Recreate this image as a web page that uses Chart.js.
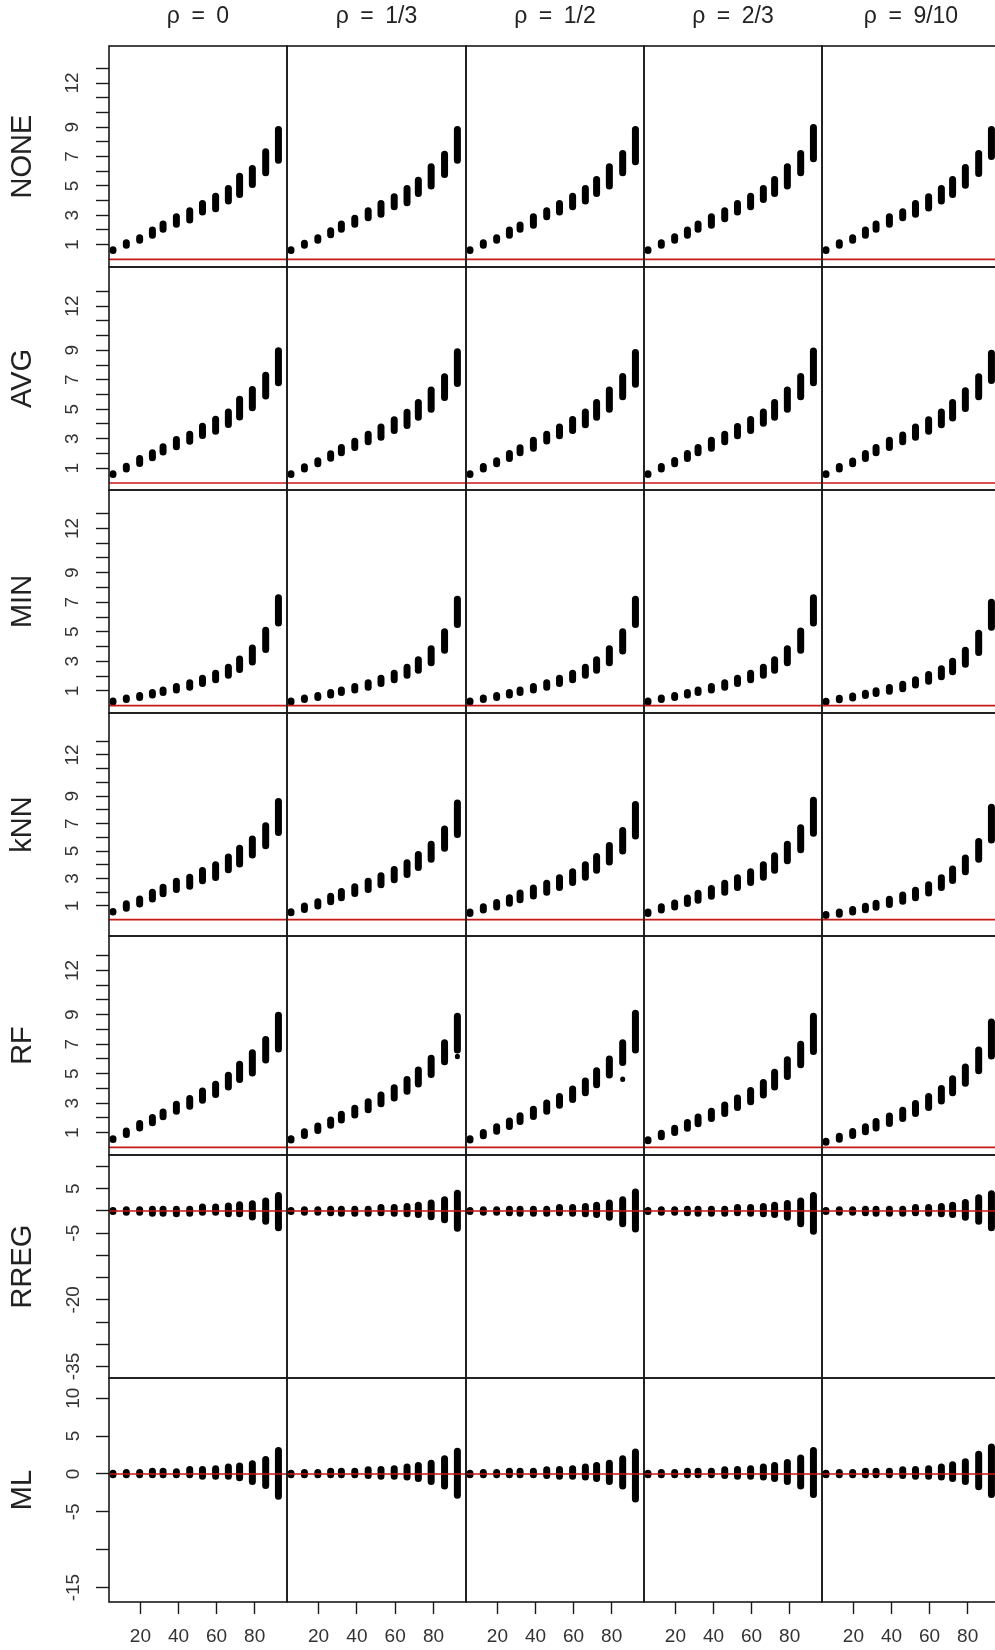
<!DOCTYPE html>
<html>
<head>
<meta charset="utf-8">
<script src="https://cdn.jsdelivr.net/npm/chart.js@4"></script>
<style>
  html, body { margin: 0; padding: 0; background: #fff; overflow: hidden; }
  #wrap { position: relative; width: 995px; height: 1650px; overflow: hidden; background: #fff; }
  #wrap canvas { position: absolute; }
</style>
</head>
<body>
<div id="wrap"></div>
<script>
// x position of every cluster (same in each panel)
const xValues = [5.6, 12.6, 19.6, 26.3, 31.9, 38.9, 45.9, 52.6, 59.5, 66.2, 72.1, 78.8, 85.8, 92.5];
const xTicks = [20, 40, 60, 80];

const colTitles = ["\u03C1\u2002=\u20020", "\u03C1\u2002=\u20021/3", "\u03C1\u2002=\u20021/2", "\u03C1\u2002=\u20022/3", "\u03C1\u2002=\u20029/10"];
const rowNames = ["NONE", "AVG", "MIN", "kNN", "RF", "RREG", "ML"];

// y axis per row
const yMin = [-0.52, -0.48, -0.5, -1.19, -0.52, -37.6, -16.9];
const yMax = [14.52, 14.65, 14.6, 15.06, 14.34, 12.6, 12.66];
const unitTicks = [1, 2, 3, 4, 5, 6, 7, 8, 9, 10, 11, 12, 13];
const unitLabels = [1, 3, 5, 7, 9, 12];
const rregTicks = [10, 5, 0, -5, -10, -15, -20, -25, -30, -35];
const rregLabels = [5, -5, -20, -35];
const mlTicks = [10, 5, 0, -5, -10, -15];
const mlLabels = [10, 5, 0, -5, -15];

// low / high end of each cluster, one list per column (rho)
const noneLo = [
  [0.60, 0.96, 1.30, 1.64, 2.05, 2.39, 2.68, 3.22, 3.45, 3.97, 4.42, 5.10, 5.89, 6.75],
  [0.60, 0.96, 1.30, 1.68, 2.05, 2.39, 2.83, 3.07, 3.58, 3.85, 4.49, 4.99, 5.78, 6.75],
  [0.60, 0.96, 1.30, 1.64, 2.05, 2.32, 2.90, 3.22, 3.58, 3.97, 4.49, 4.99, 5.89, 6.64],
  [0.60, 0.96, 1.30, 1.64, 2.05, 2.32, 2.77, 3.22, 3.58, 4.08, 4.49, 4.99, 5.89, 6.84],
  [0.60, 0.96, 1.30, 1.64, 2.05, 2.39, 2.83, 3.07, 3.50, 3.97, 4.42, 5.05, 5.84, 7.00]
];
const noneHi = [
  [0.66, 1.13, 1.47, 2.00, 2.40, 2.90, 3.31, 3.80, 4.30, 4.82, 5.66, 6.18, 7.32, 8.83],
  [0.66, 1.10, 1.47, 1.95, 2.40, 2.79, 3.31, 3.80, 4.26, 4.82, 5.39, 6.30, 7.15, 8.83],
  [0.66, 1.13, 1.47, 2.00, 2.33, 2.90, 3.31, 3.80, 4.30, 4.82, 5.44, 6.30, 7.20, 8.83],
  [0.66, 1.13, 1.54, 2.00, 2.40, 2.90, 3.31, 3.80, 4.30, 4.82, 5.44, 6.30, 7.20, 8.97],
  [0.66, 1.13, 1.47, 2.00, 2.40, 2.90, 3.24, 3.80, 4.26, 4.82, 5.44, 6.25, 7.20, 8.83]
];
const avgLo = [
  [0.58, 0.95, 1.32, 1.70, 2.09, 2.45, 2.83, 3.22, 3.50, 3.97, 4.48, 5.10, 5.89, 6.80],
  [0.58, 0.95, 1.30, 1.68, 2.05, 2.40, 2.80, 3.10, 3.55, 3.90, 4.45, 5.00, 5.80, 6.75],
  [0.58, 0.95, 1.30, 1.66, 2.05, 2.35, 2.85, 3.20, 3.55, 3.95, 4.45, 5.00, 5.85, 6.70],
  [0.58, 0.95, 1.30, 1.66, 2.05, 2.35, 2.80, 3.20, 3.55, 4.05, 4.45, 5.00, 5.85, 6.80],
  [0.58, 0.95, 1.30, 1.66, 2.05, 2.40, 2.80, 3.10, 3.50, 3.95, 4.40, 5.05, 5.85, 6.95]
];
const avgHi = [
  [0.63, 1.13, 1.65, 2.04, 2.45, 2.94, 3.30, 3.85, 4.32, 4.82, 5.68, 6.34, 7.31, 8.97],
  [0.63, 1.10, 1.50, 1.98, 2.40, 2.82, 3.30, 3.80, 4.28, 4.80, 5.45, 6.30, 7.20, 8.90],
  [0.63, 1.12, 1.50, 2.00, 2.38, 2.90, 3.30, 3.80, 4.30, 4.82, 5.45, 6.30, 7.22, 8.85],
  [0.63, 1.12, 1.52, 2.00, 2.40, 2.90, 3.30, 3.82, 4.30, 4.82, 5.45, 6.30, 7.22, 8.95],
  [0.63, 1.12, 1.48, 2.00, 2.40, 2.90, 3.25, 3.80, 4.28, 4.82, 5.45, 6.25, 7.20, 8.80]
];
const minLo = [
  [0.25, 0.42, 0.55, 0.72, 0.88, 1.05, 1.25, 1.50, 1.75, 2.05, 2.45, 2.95, 3.80, 5.60],
  [0.25, 0.42, 0.55, 0.72, 0.88, 1.05, 1.25, 1.50, 1.75, 2.05, 2.40, 2.90, 3.75, 5.50],
  [0.25, 0.42, 0.55, 0.72, 0.88, 1.05, 1.25, 1.50, 1.75, 2.05, 2.40, 2.90, 3.70, 5.50],
  [0.25, 0.42, 0.55, 0.72, 0.88, 1.05, 1.25, 1.50, 1.75, 2.05, 2.40, 2.90, 3.75, 5.60],
  [0.25, 0.40, 0.52, 0.68, 0.82, 0.98, 1.15, 1.40, 1.65, 1.95, 2.30, 2.80, 3.60, 5.30]
];
const minHi = [
  [0.32, 0.52, 0.68, 0.88, 1.05, 1.30, 1.55, 1.85, 2.20, 2.60, 3.15, 3.90, 5.10, 7.30],
  [0.32, 0.52, 0.68, 0.88, 1.05, 1.30, 1.55, 1.85, 2.20, 2.60, 3.10, 3.85, 5.00, 7.20],
  [0.32, 0.52, 0.68, 0.88, 1.05, 1.30, 1.55, 1.85, 2.20, 2.60, 3.10, 3.85, 5.00, 7.20],
  [0.32, 0.52, 0.68, 0.88, 1.05, 1.30, 1.55, 1.85, 2.20, 2.60, 3.10, 3.85, 5.05, 7.30],
  [0.30, 0.50, 0.65, 0.84, 1.00, 1.22, 1.45, 1.75, 2.10, 2.50, 3.00, 3.75, 4.90, 7.00]
];
const knnLo = [
  [0.55, 0.83, 1.15, 1.50, 1.88, 2.19, 2.43, 2.84, 3.08, 3.64, 4.06, 4.71, 5.39, 6.36],
  [0.50, 0.75, 1.00, 1.30, 1.60, 1.90, 2.20, 2.55, 2.90, 3.30, 3.80, 4.40, 5.20, 6.20],
  [0.45, 0.70, 0.92, 1.20, 1.45, 1.72, 2.00, 2.35, 2.70, 3.10, 3.60, 4.20, 5.00, 6.10],
  [0.45, 0.70, 0.92, 1.18, 1.42, 1.70, 2.00, 2.35, 2.70, 3.10, 3.60, 4.30, 5.10, 6.30],
  [0.30, 0.40, 0.55, 0.72, 0.90, 1.10, 1.35, 1.60, 1.95, 2.35, 2.85, 3.50, 4.40, 5.80]
];
const knnHi = [
  [0.60, 1.16, 1.50, 2.00, 2.36, 2.80, 3.10, 3.59, 4.00, 4.56, 5.20, 5.87, 6.84, 8.61],
  [0.58, 1.00, 1.30, 1.70, 2.05, 2.40, 2.80, 3.20, 3.65, 4.15, 4.75, 5.50, 6.60, 8.50],
  [0.55, 0.95, 1.25, 1.60, 1.95, 2.30, 2.65, 3.05, 3.50, 4.00, 4.60, 5.40, 6.50, 8.40],
  [0.55, 0.95, 1.22, 1.58, 1.92, 2.28, 2.65, 3.05, 3.50, 4.00, 4.65, 5.50, 6.70, 8.70],
  [0.38, 0.55, 0.75, 0.98, 1.20, 1.48, 1.80, 2.15, 2.55, 3.05, 3.70, 4.50, 5.70, 8.20]
];
const rfLo = [
  [0.53, 0.87, 1.32, 1.66, 2.07, 2.45, 2.79, 3.20, 3.59, 4.10, 4.60, 5.05, 5.92, 6.68],
  [0.50, 0.80, 1.15, 1.50, 1.85, 2.20, 2.55, 2.95, 3.35, 3.80, 4.30, 4.95, 5.80, 6.60],
  [0.50, 0.78, 1.10, 1.42, 1.75, 2.10, 2.45, 2.85, 3.25, 3.70, 4.25, 4.90, 5.75, 6.60],
  [0.45, 0.72, 1.00, 1.30, 1.60, 1.95, 2.30, 2.70, 3.10, 3.55, 4.10, 4.80, 5.60, 6.50],
  [0.35, 0.55, 0.80, 1.05, 1.32, 1.62, 1.95, 2.30, 2.70, 3.15, 3.70, 4.35, 5.20, 6.20]
];
const rfHi = [
  [0.59, 1.11, 1.61, 2.02, 2.40, 2.92, 3.31, 3.83, 4.28, 4.89, 5.64, 6.41, 7.32, 8.97],
  [0.58, 1.05, 1.45, 1.85, 2.25, 2.65, 3.10, 3.55, 4.05, 4.60, 5.25, 6.05, 7.10, 8.90],
  [0.58, 1.00, 1.40, 1.78, 2.15, 2.58, 3.00, 3.45, 3.95, 4.50, 5.20, 6.00, 7.10, 9.10],
  [0.52, 0.95, 1.30, 1.68, 2.05, 2.45, 2.88, 3.35, 3.85, 4.40, 5.10, 5.95, 7.00, 8.90],
  [0.42, 0.75, 1.08, 1.40, 1.75, 2.12, 2.52, 2.98, 3.45, 4.00, 4.65, 5.45, 6.60, 8.50]
];
// stray single values below a cluster: [column, x, y]
const rfStray = [[1, 92.5, 6.15], [2, 85.8, 4.6]];
const rregLo = [
  [-0.1, -0.3, -0.3, -0.5, -0.5, -0.6, -0.5, -0.3, -0.3, -0.6, -0.6, -1.35, -2.3, -3.8],
  [-0.1, -0.3, -0.3, -0.4, -0.5, -0.5, -0.5, -0.4, -0.5, -0.6, -0.8, -1.3, -2.0, -3.9],
  [-0.1, -0.3, -0.3, -0.4, -0.5, -0.5, -0.5, -0.4, -0.5, -0.6, -0.8, -1.4, -2.85, -4.05],
  [-0.1, -0.3, -0.3, -0.4, -0.5, -0.5, -0.5, -0.4, -0.5, -0.6, -0.8, -1.4, -2.85, -4.57],
  [-0.1, -0.3, -0.3, -0.4, -0.5, -0.5, -0.5, -0.4, -0.5, -0.6, -0.8, -1.4, -2.3, -3.8]
];
const rregHi = [
  [0.1, 0.3, 0.3, 0.4, 0.4, 0.4, 0.4, 0.9, 0.9, 1.1, 1.4, 1.65, 2.25, 3.5],
  [0.1, 0.3, 0.3, 0.4, 0.4, 0.4, 0.4, 0.8, 0.8, 1.0, 1.3, 1.8, 2.5, 4.0],
  [0.1, 0.3, 0.3, 0.4, 0.4, 0.4, 0.4, 0.8, 0.8, 1.0, 1.3, 1.8, 2.55, 4.28],
  [0.1, 0.3, 0.3, 0.4, 0.4, 0.4, 0.4, 0.8, 0.8, 1.0, 1.3, 1.7, 2.25, 3.5],
  [0.1, 0.3, 0.3, 0.4, 0.4, 0.4, 0.4, 0.8, 0.8, 1.0, 1.3, 1.9, 3.0, 3.9]
];
const mlLo = [
  [-0.1, -0.1, -0.1, -0.1, -0.1, -0.1, -0.1, -0.3, -0.3, -0.3, -0.5, -1.0, -1.54, -2.95],
  [-0.1, -0.1, -0.1, -0.1, -0.1, -0.1, -0.2, -0.3, -0.3, -0.4, -0.6, -1.0, -1.6, -2.80],
  [-0.1, -0.1, -0.1, -0.1, -0.1, -0.1, -0.2, -0.3, -0.3, -0.4, -0.6, -1.0, -1.6, -3.30],
  [-0.1, -0.1, -0.1, -0.1, -0.1, -0.1, -0.2, -0.3, -0.3, -0.4, -0.6, -1.0, -1.6, -2.70],
  [-0.1, -0.1, -0.1, -0.1, -0.1, -0.1, -0.2, -0.3, -0.3, -0.4, -0.6, -1.0, -1.7, -2.70]
];
const mlHi = [
  [0.1, 0.2, 0.2, 0.35, 0.35, 0.3, 0.57, 0.57, 0.7, 0.93, 1.06, 1.36, 1.9, 3.1],
  [0.1, 0.2, 0.2, 0.35, 0.35, 0.35, 0.55, 0.6, 0.7, 0.9, 1.1, 1.4, 2.0, 3.0],
  [0.1, 0.2, 0.2, 0.35, 0.35, 0.35, 0.55, 0.6, 0.7, 0.9, 1.1, 1.4, 2.0, 2.9],
  [0.1, 0.2, 0.2, 0.35, 0.35, 0.35, 0.55, 0.6, 0.7, 0.9, 1.1, 1.5, 2.1, 3.1],
  [0.1, 0.2, 0.2, 0.35, 0.35, 0.35, 0.55, 0.6, 0.7, 0.9, 1.2, 1.6, 2.6, 3.55]
];

const rowLo = [noneLo, avgLo, minLo, knnLo, rfLo, rregLo, mlLo];
const rowHi = [noneHi, avgHi, minHi, knnHi, rfHi, rregHi, mlHi];
const rowStray = [[], [], [], [], rfStray, [], []];
const rowTicks = [unitTicks, unitTicks, unitTicks, unitTicks, unitTicks, rregTicks, mlTicks];
const rowLabels = [unitLabels, unitLabels, unitLabels, unitLabels, unitLabels, rregLabels, mlLabels];

// panel grid in page pixels
const colEdges = [109, 287, 466, 644, 822, 1000];
const rowEdges = [46, 267, 490, 713, 936, 1155, 1378, 1602];
const pageH = 1650;
const fontFamily = "'Liberation Sans', Arial, sans-serif";

const framePlugin = {
  id: 'frame',
  afterDraw(chart) {
    const { ctx, chartArea: a } = chart;
    ctx.save();
    ctx.strokeStyle = '#1a1a1a';
    ctx.lineWidth = 1.6;
    ctx.strokeRect(a.left, a.top, a.right - a.left, a.bottom - a.top);
    ctx.restore();
  }
};

function clusterPoints(lo, hi) {
  const pts = [];
  xValues.forEach((x, i) => {
    pts.push({ x: x, y: lo[i] }, { x: x, y: hi[i] }, { x: x, y: null });
  });
  return pts;
}

// a stray value is drawn as a very short capped stroke, i.e. a dot
function strayPoints(list) {
  const pts = [];
  list.forEach(p => {
    pts.push({ x: p.x, y: p.y }, { x: p.x, y: p.y + 0.03 }, { x: p.x, y: null });
  });
  return pts;
}

const wrap = document.getElementById('wrap');
const lastRow = rowNames.length - 1;

for (let r = 0; r < rowNames.length; r++) {
  for (let c = 0; c < colTitles.length; c++) {
    const left = c === 0 ? 0 : colEdges[c] - 2;
    const right = colEdges[c + 1] + 2;
    const top = r === 0 ? 0 : rowEdges[r] - 2;
    const bottom = r === lastRow ? pageH : rowEdges[r + 1] + 2;

    const canvas = document.createElement('canvas');
    canvas.width = right - left;
    canvas.height = bottom - top;
    canvas.style.left = left + 'px';
    canvas.style.top = top + 'px';
    wrap.appendChild(canvas);

    const ticks = rowTicks[r];
    const labels = rowLabels[r];
    const showX = r === lastRow;
    const showY = c === 0;
    const labelPad = r >= 5 ? 9 : 12.5;
    const stray = rowStray[r].filter(s => s[0] === c).map(s => ({ x: s[1], y: s[2] }));

    const datasets = [
      {
        // reference line at zero
        data: [{ x: 3.5, y: 0 }, { x: 97, y: 0 }],
        borderColor: 'rgb(200,25,25)',
        borderWidth: 1.6,
        pointRadius: 0
      },
      {
        data: clusterPoints(rowLo[r][c], rowHi[r][c]),
        borderColor: '#000',
        borderWidth: 7,
        borderCapStyle: 'round',
        pointRadius: 0,
        spanGaps: false,
        tension: 0
      }
    ];
    if (stray.length) {
      datasets.push({
        data: strayPoints(stray),
        borderColor: '#000',
        borderWidth: 5,
        borderCapStyle: 'round',
        pointRadius: 0,
        spanGaps: false,
        tension: 0
      });
    }

    new Chart(canvas, {
      type: 'line',
      data: { datasets: datasets },
      options: {
        responsive: false,
        devicePixelRatio: 1,
        animation: false,
        events: [],
        layout: {
          padding: {
            left: showY ? 0 : 2,
            right: 2,
            top: r === 0 ? 0 : 2,
            bottom: showX ? 0 : 2
          }
        },
        plugins: {
          legend: { display: false },
          tooltip: { enabled: false },
          title: {
            display: r === 0,
            text: colTitles[c],
            fullSize: false,
            color: '#222',
            font: { family: fontFamily, size: 23, weight: 'normal' },
            padding: { top: 3, bottom: 15.4 }
          }
        },
        scales: {
          x: {
            type: 'linear',
            min: 3.5,
            max: 97,
            display: showX,
            afterFit: s => {
              if (showX) s.height = pageH - rowEdges[rowEdges.length - 1];
              s.paddingLeft = 0;
              s.paddingRight = 0;
            },
            afterBuildTicks: s => { s.ticks = xTicks.map(v => ({ value: v })); },
            border: { display: false },
            grid: { drawOnChartArea: false, tickLength: 12, tickColor: '#1a1a1a', tickWidth: 1.4 },
            ticks: {
              autoSkip: false, maxRotation: 0, padding: 11, color: '#333',
              font: { family: fontFamily, size: 19 }
            }
          },
          y: {
            type: 'linear',
            min: yMin[r],
            max: yMax[r],
            display: showY,
            afterFit: s => {
              if (showY) s.width = colEdges[0];
              s.paddingTop = 0;
              s.paddingBottom = 0;
            },
            afterBuildTicks: s => { s.ticks = ticks.map(v => ({ value: v })); },
            border: { display: false },
            grid: { drawOnChartArea: false, tickLength: 13, tickColor: '#1a1a1a', tickWidth: 1.4 },
            ticks: {
              autoSkip: false, minRotation: 90, maxRotation: 90, crossAlign: 'center',
              padding: labelPad, color: '#333',
              font: { family: fontFamily, size: 19 },
              callback: v => (labels.includes(v) ? String(v) : '')
            },
            title: {
              display: true,
              text: rowNames[r],
              color: '#222',
              font: { family: fontFamily, size: 29 },
              padding: { top: 6, bottom: 0 }
            }
          }
        }
      },
      plugins: [framePlugin]
    });
  }
}
</script>
</body>
</html>
